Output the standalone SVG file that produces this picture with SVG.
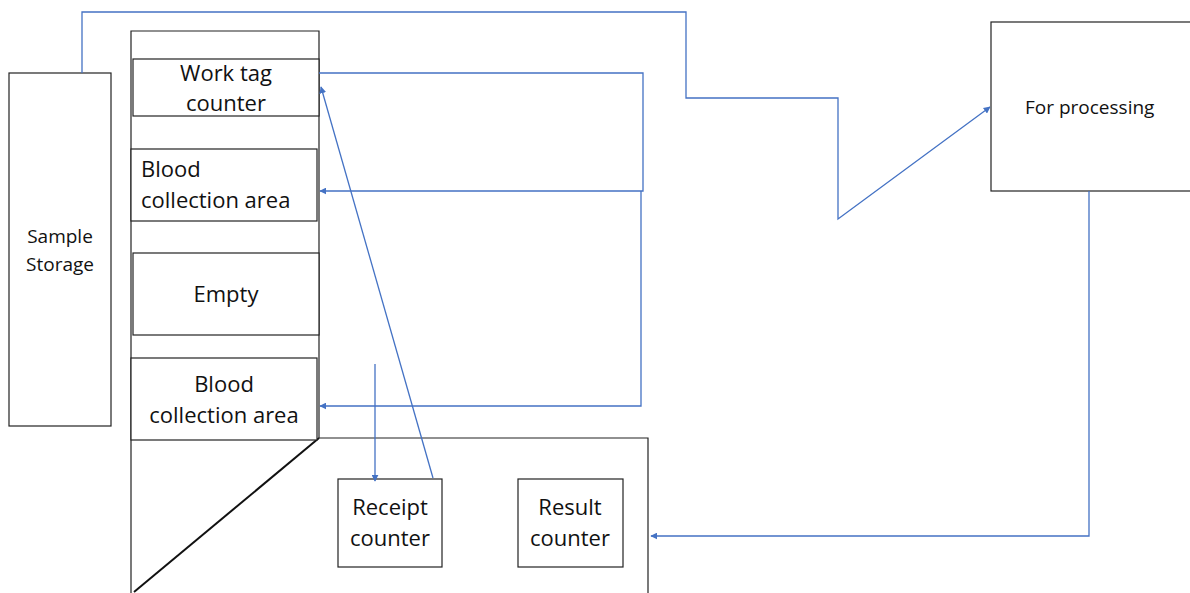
<svg xmlns="http://www.w3.org/2000/svg" width="1190" height="593" viewBox="0 0 1190 593">
<style>
.box{fill:#fff;stroke:#222;stroke-width:1.2}
.wall{fill:none;stroke:#222;stroke-width:1.2}
.t{font-family:"Open Sans","Liberation Sans",sans-serif;fill:#111}
.big{font-size:22px}
.small{font-size:19px}
.c{fill:none;stroke:#4472C4;stroke-width:1.3}
</style>
<defs>
<marker id="ah" viewBox="0 0 10 10" refX="9" refY="5" markerWidth="7" markerHeight="7" markerUnits="userSpaceOnUse" orient="auto">
<path d="M0,0 L10,5 L0,10 z" fill="#4472C4"/>
</marker>
</defs>
<rect width="1190" height="593" fill="#fff"/>
<g id="building">
<path class="wall" d="M131,593 V31 H319 V438 H648 V593"/>
<line x1="319" y1="438" x2="134" y2="592" stroke="#111" stroke-width="2"/>
</g>
<g id="sample-storage">
<rect class="box" x="9" y="73" width="102" height="353"/>
<text class="t small" x="60" y="243" text-anchor="middle">Sample</text>
<text class="t small" x="60" y="271" text-anchor="middle">Storage</text>
</g>
<g id="work-tag">
<rect class="box" x="133" y="59" width="186" height="57"/>
<text class="t big" x="226" y="81" text-anchor="middle">Work tag</text>
<text class="t big" x="226" y="111" text-anchor="middle">counter</text>
</g>
<g id="blood1">
<rect class="box" x="131" y="149" width="186" height="72"/>
<text class="t big" x="141" y="177">Blood</text>
<text class="t big" x="141" y="208">collection area</text>
</g>
<g id="empty">
<rect class="box" x="133" y="253" width="186" height="82"/>
<text class="t big" x="226" y="302" text-anchor="middle">Empty</text>
</g>
<g id="blood2">
<rect class="box" x="131" y="358" width="186" height="82"/>
<text class="t big" x="224" y="392" text-anchor="middle">Blood</text>
<text class="t big" x="224" y="423" text-anchor="middle">collection area</text>
</g>
<g id="receipt">
<rect class="box" x="338" y="479" width="104" height="88"/>
<text class="t big" x="390" y="515" text-anchor="middle">Receipt</text>
<text class="t big" x="390" y="546" text-anchor="middle">counter</text>
</g>
<g id="result">
<rect class="box" x="518" y="479" width="105" height="88"/>
<text class="t big" x="570" y="515" text-anchor="middle">Result</text>
<text class="t big" x="570" y="546" text-anchor="middle">counter</text>
</g>
<g id="processing">
<rect class="box" x="991" y="22" width="205" height="169"/>
<text class="t small" x="1025" y="114">For processing</text>
</g>
<g id="connectors">
<path class="c" d="M82,73 V12 H686 V98 H838 V219 L990,107" marker-end="url(#ah)"/>
<path class="c" d="M433,478 L321,87" marker-end="url(#ah)"/>
<path class="c" d="M375,364 V481" marker-end="url(#ah)"/>
<path class="c" d="M319,73 H643 V191 H320" marker-end="url(#ah)"/>
<path class="c" d="M641,191 V406 H320" marker-end="url(#ah)"/>
<path class="c" d="M1089,191 V536 H651" marker-end="url(#ah)"/>
</g>
</svg>
